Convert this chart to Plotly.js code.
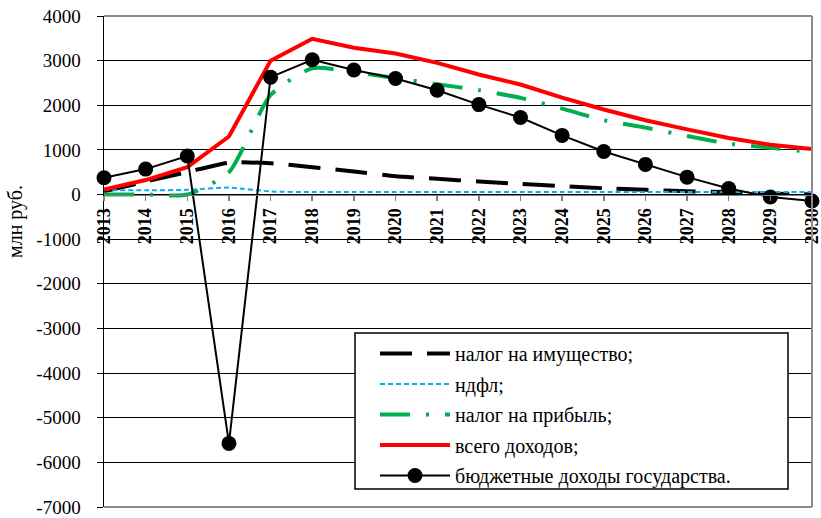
<!DOCTYPE html>
<html><head><meta charset="utf-8">
<script src="https://cdn.plot.ly/plotly-3.0.1.min.js"></script>
<style>html,body{margin:0;padding:0;background:#fff}#chart{width:821px;height:518px}</style>
</head><body><div id="chart"></div>
<script>
var years = [2013,2014,2015,2016,2017,2018,2019,2020,2021,2022,2023,2024,2025,2026,2027,2028,2029,2030];
var propertyTax = [70,290,505,715,700,614,517,412,352,292,240,187,142,105,75,55,20,5];
var ndfl = [100,95,105,155,70,55,55,55,55,55,55,55,55,55,55,55,55,55];
var profitTax = [0,0,0,500,2230,2830,2740,2610,2470,2340,2165,1925,1665,1500,1310,1140,1050,950];
var totalIncome = [110,325,615,1300,3000,3490,3290,3160,2950,2690,2465,2170,1905,1665,1460,1265,1115,1020];
var budgetIncome = [375,570,865,-5575,2630,3020,2790,2600,2335,2015,1725,1325,965,675,390,135,-55,-145];
var seriesNames = ['налог на имущество;','ндфл;','налог на прибыль;','всего доходов;','бюджетные доходы государства.'];
var yTickVals = [4000,3000,2000,1000,0,-1000,-2000,-3000,-4000,-5000,-6000,-7000];
var yTickText = ['4000','3000','2000','1000','0','-1000','-2000','-3000','-4000','-5000','-6000','-7000'];
var yTitle = 'млн руб.';

var FONT = '"Liberation Serif", "Times New Roman", serif';
var traces = [
  {x: years, y: propertyTax, name: seriesNames[0], mode: 'lines', legendgroup: 'a',
   line: {color: '#000000', width: 4, dash: '32px,15px', shape: 'spline', smoothing: 0.6}},
  {x: years, y: ndfl, name: seriesNames[1], mode: 'lines', legendgroup: 'b',
   line: {color: '#00B0F0', width: 2, dash: '5px,3px', shape: 'spline', smoothing: 0.6}},
  {x: years, y: profitTax, name: seriesNames[2], mode: 'lines', legendgroup: 'c',
   line: {color: '#00B050', width: 4, dash: '30px,16px,3px,16px', shape: 'spline', smoothing: 0.6}},
  {x: years, y: totalIncome, name: seriesNames[3], mode: 'lines', legendgroup: 'd',
   line: {color: '#FF0000', width: 4}},
  {x: years, y: budgetIncome, name: seriesNames[4], mode: 'lines+markers', legendgroup: 'e', cliponaxis: false,
   line: {color: '#000000', width: 2}, marker: {color: '#000000', size: 15}}
];

var T = 16, B = 507;
function px(xp) { return (xp - 104) / 708; }
function py(yp) { return (B - yp) / (B - T); }

var layout = {
  width: 821, height: 518,
  margin: {l: 104, r: 9, t: T, b: 518 - B},
  paper_bgcolor: '#ffffff', plot_bgcolor: '#ffffff',
  font: {family: FONT, color: '#000000', size: 18},
  showlegend: true,
  legend: {
    x: px(375), y: py(334), xanchor: 'left', yanchor: 'top',
    bgcolor: 'rgba(0,0,0,0)', borderwidth: 0,
    font: {family: FONT, size: 20, color: '#000000'},
    itemwidth: 70, tracegroupgap: 1.5
  },
  xaxis: {
    range: [2013, 2030], anchor: 'free', position: 7/11,
    tickvals: years, ticktext: years.map(String), tickangle: -90, ticklabeloverflow: 'allow',
    tickfont: {family: FONT, size: 18, color: '#000000', weight: 'bold'},
    showgrid: false, zeroline: false, showline: true, linecolor: '#808080', linewidth: 1.5,
    ticks: 'outside', ticklen: 5, tickcolor: '#808080', tickwidth: 1.5
  },
  yaxis: {
    range: [-7000, 4000], tickvals: yTickVals, ticktext: yTickText, ticklabeloverflow: 'allow',
    tickfont: {family: FONT, size: 19, color: '#000000'},
    showgrid: true, gridcolor: '#000000', gridwidth: 1, zeroline: false,
    showline: true, linecolor: '#000000', linewidth: 1.5,
    ticks: 'outside', ticklen: 6, tickcolor: '#000000', ticklabelstandoff: 12
  },
  shapes: [
    {type: 'line', xref: 'paper', yref: 'paper', x0: 0, x1: 1, y0: 1, y1: 1, line: {color: '#8c8c8c', width: 2}},
    {type: 'line', xref: 'paper', yref: 'paper', x0: 1, x1: 1, y0: 0, y1: 1, line: {color: '#8c8c8c', width: 2}},
    {type: 'line', xref: 'paper', yref: 'paper', x0: 0, x1: 1, y0: 0, y1: 0, line: {color: '#8c8c8c', width: 2}},
    {type: 'rect', xref: 'paper', yref: 'paper', x0: px(355), x1: px(788), y0: py(489), y1: py(333),
     fillcolor: '#ffffff', line: {color: '#000000', width: 1.5}, layer: 'above'}
  ],
  annotations: [
    {text: yTitle, xref: 'paper', yref: 'paper', x: px(15), y: py(222), xanchor: 'center', yanchor: 'middle',
     textangle: -90, showarrow: false, font: {family: FONT, size: 20, color: '#000000'}}
  ]
};
Plotly.newPlot('chart', traces, layout, {displayModeBar: false, staticPlot: true});
</script></body></html>
